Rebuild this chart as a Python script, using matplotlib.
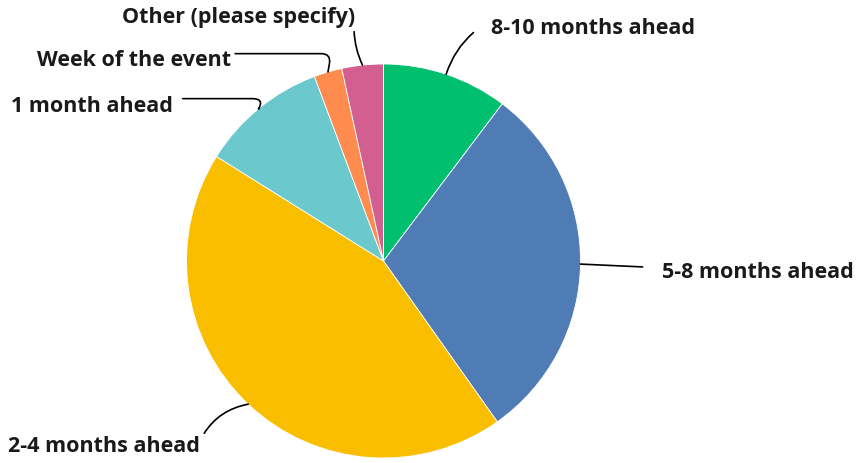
import numpy as np
import matplotlib
matplotlib.use("Agg")
import matplotlib.pyplot as plt

# answers, in the order they go round the pie (clockwise from 12 o'clock)
labels = ["8-10 months ahead", "5-8 months ahead", "2-4 months ahead",
          "1 month ahead", "Week of the event", "Other (please specify)"]
shares = [10.3, 29.9, 43.7, 10.4, 2.3, 3.4]
colors = ["#00BF6F", "#507CB6", "#F9BE00", "#6BC8CD", "#FF8B4F", "#D25F90"]

W, H = 859, 463
fig = plt.figure(figsize=(W / 100, H / 100), dpi=100)
plt.rcParams['font.family'] = ['Open Sans', 'DejaVu Sans']

# pie centre (383.5, 261) and radius 197 in image pixels
cx, cy, r = 383.5, 261, 197
ax = fig.add_axes([(cx - r) / W, (H - cy - r) / H, 2 * r / W, 2 * r / H])
wedges, _ = ax.pie(shares, colors=colors, startangle=90, counterclock=False,
                   radius=1, wedgeprops=dict(linewidth=0.6, edgecolor="white"))
ax.set_xlim(-1, 1)
ax.set_ylim(-1, 1)
ax.set_aspect("equal")
ax.axis("off")

# label placement: text anchor (image px), alignment, connection style,
# where the leader leaves the text box, gap to the text
layout = [
    ((491, 29), "left", "arc3,rad=0.2", 0.9, 13),
    ((662, 272), "left", "arc3,rad=0", 0.7, 12),
    ((200, 446), "right", "arc3,rad=-0.25", 0.75, 2),
    ((173, 106), "right", "angle,angleA=0,angleB=60,rad=12", 0.85, 5),
    ((231, 61), "right", "angle,angleA=0,angleB=80,rad=10", 0.85, 1),
    ((355, 17), "right", "arc3,rad=0.15", 0.6, 1),
]

cum = np.cumsum([0] + shares)
for i, (lab, (pos, ha, cs, rely, gap)) in enumerate(zip(labels, layout)):
    mid = 90 - 360 * (cum[i] + shares[i] / 2) / 100
    xy = (np.cos(np.radians(mid)), np.sin(np.radians(mid)))
    relx = 0 if ha == "left" else 1
    ax.annotate(lab, xy=xy, xycoords="data",
                xytext=(pos[0], H - pos[1]), textcoords="figure pixels",
                ha=ha, va="center", fontsize=15.5, fontweight="bold",
                color="#1a1a1a", annotation_clip=False,
                arrowprops=dict(arrowstyle="-", color="black", lw=1.2,
                                connectionstyle=cs, relpos=(relx, rely),
                                shrinkA=gap, shrinkB=0))

fig.savefig("out.png", dpi=100)
